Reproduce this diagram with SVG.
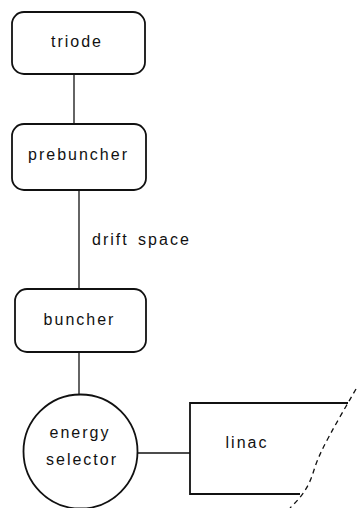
<svg xmlns="http://www.w3.org/2000/svg" width="357" height="508" viewBox="0 0 357 508">
<style>
.box{fill:none;stroke:#111;stroke-width:1.8}
.ln{fill:none;stroke:#111;stroke-width:1.3}
.t{font-family:"Liberation Sans",Arial,sans-serif;font-size:16px;letter-spacing:2px;fill:#111;text-anchor:middle}
</style>
<rect width="357" height="508" fill="#fff"/>
<g id="connectors">
<line class="ln" x1="74" y1="74" x2="74" y2="124"/>
<line class="ln" x1="79" y1="190" x2="79" y2="289"/>
<line class="ln" x1="79" y1="352" x2="79" y2="395"/>
<line class="ln" x1="138" y1="453" x2="190" y2="453"/>
</g>
<g id="triode">
<rect class="box" x="12" y="12" width="133" height="62" rx="12"/>
<text class="t" x="77" y="47">triode</text>
</g>
<g id="prebuncher">
<rect class="box" x="12" y="124" width="134" height="66" rx="12"/>
<text class="t" x="78.5" y="160">prebuncher</text>
</g>
<g id="drift-space">
<text class="t" x="92" y="245" style="text-anchor:start;word-spacing:3px">drift space</text>
</g>
<g id="buncher">
<rect class="box" x="15" y="289" width="131" height="63" rx="12"/>
<text class="t" x="79.5" y="325">buncher</text>
</g>
<g id="energy-selector">
<circle class="box" cx="80.5" cy="451.5" r="57"/>
<text class="t" x="80" y="438">energy</text>
<text class="t" x="82" y="465">selector</text>
</g>
<g id="linac">
<path class="box" d="M348,403 H190 V494 H300"/>
<path class="ln" stroke-width="1.8" stroke-dasharray="5,4" d="M356,389 C336,424 320,450 314,470 S300,498 290,508"/>
<text class="t" x="247" y="448">linac</text>
</g>
</svg>
